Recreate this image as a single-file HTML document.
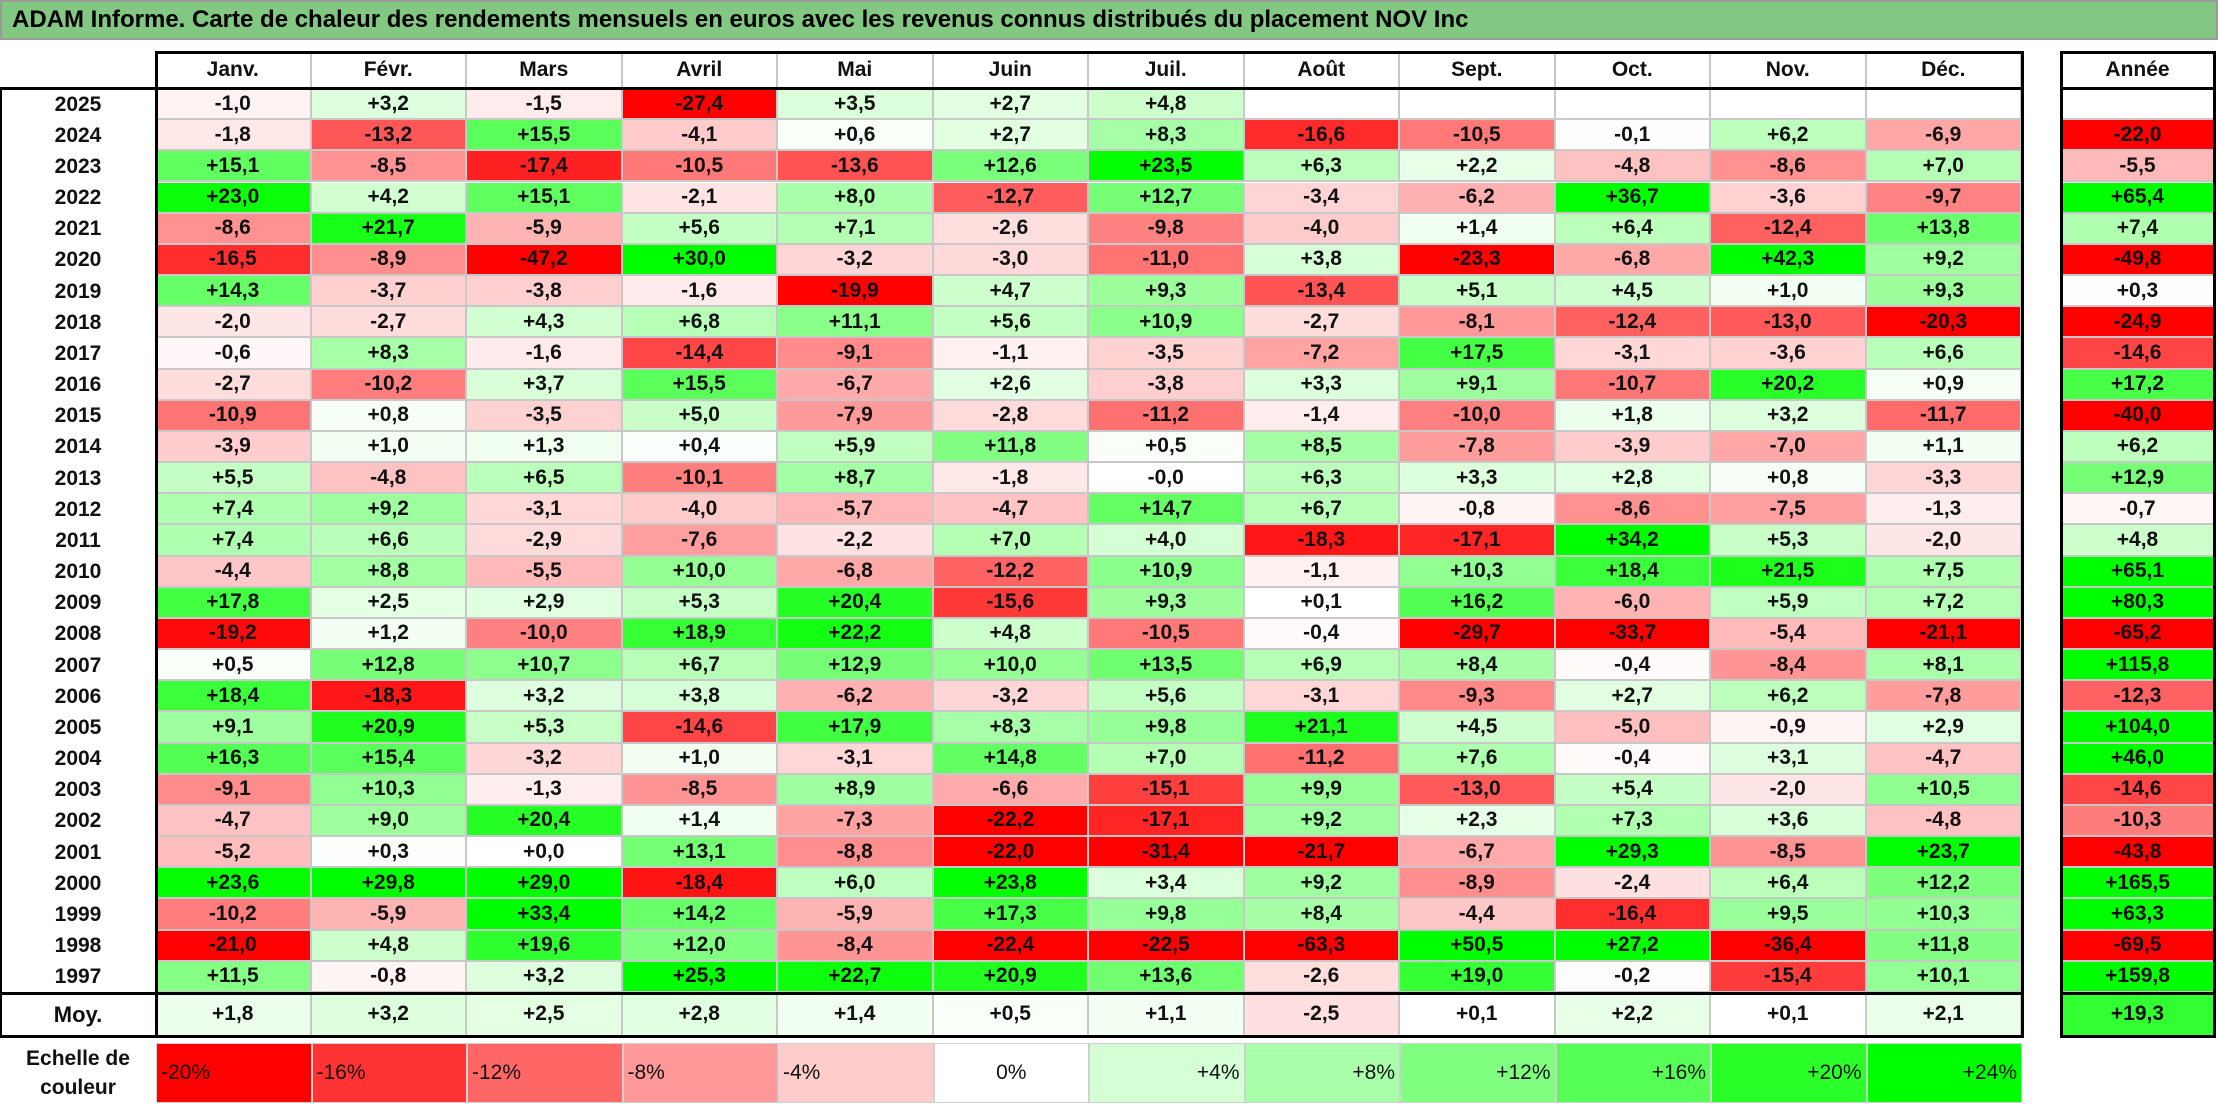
<!DOCTYPE html>
<html><head><meta charset="utf-8">
<style>
html,body{margin:0;padding:0;background:#fff;}
body{width:2218px;height:1106px;position:relative;overflow:hidden;font-family:"Liberation Sans",sans-serif;}
.c{position:absolute;box-sizing:border-box;display:flex;align-items:center;justify-content:center;font-weight:bold;font-size:21px;color:#111;border-right:2px solid #c8c8c8;border-bottom:2px solid #c8c8c8;}
#title{position:absolute;left:0;top:0;width:2218px;height:40px;background:#82c882;box-sizing:border-box;border:2px solid #9a9a9a;font-weight:bold;font-size:24px;line-height:36px;padding-left:10px;}
.box{position:absolute;box-sizing:border-box;border:3px solid #000;pointer-events:none;}
.ln{position:absolute;background:#000;}
</style></head><body>
<div id="title">ADAM Informe. Carte de chaleur des rendements mensuels en euros avec les revenus connus distribués du placement NOV Inc</div>
<div id="grid"></div>
<script>
const months=["Janv.","Févr.","Mars","Avril","Mai","Juin","Juil.","Août","Sept.","Oct.","Nov.","Déc."];
const years=[2025,2024,2023,2022,2021,2020,2019,2018,2017,2016,2015,2014,2013,2012,2011,2010,2009,2008,2007,2006,2005,2004,2003,2002,2001,2000,1999,1998,1997];
const values=[
[-1.0,3.2,-1.5,-27.4,3.5,2.7,4.8,null,null,null,null,null],
[-1.8,-13.2,15.5,-4.1,0.6,2.7,8.3,-16.6,-10.5,-0.1,6.2,-6.9],
[15.1,-8.5,-17.4,-10.5,-13.6,12.6,23.5,6.3,2.2,-4.8,-8.6,7.0],
[23.0,4.2,15.1,-2.1,8.0,-12.7,12.7,-3.4,-6.2,36.7,-3.6,-9.7],
[-8.6,21.7,-5.9,5.6,7.1,-2.6,-9.8,-4.0,1.4,6.4,-12.4,13.8],
[-16.5,-8.9,-47.2,30.0,-3.2,-3.0,-11.0,3.8,-23.3,-6.8,42.3,9.2],
[14.3,-3.7,-3.8,-1.6,-19.9,4.7,9.3,-13.4,5.1,4.5,1.0,9.3],
[-2.0,-2.7,4.3,6.8,11.1,5.6,10.9,-2.7,-8.1,-12.4,-13.0,-20.3],
[-0.6,8.3,-1.6,-14.4,-9.1,-1.1,-3.5,-7.2,17.5,-3.1,-3.6,6.6],
[-2.7,-10.2,3.7,15.5,-6.7,2.6,-3.8,3.3,9.1,-10.7,20.2,0.9],
[-10.9,0.8,-3.5,5.0,-7.9,-2.8,-11.2,-1.4,-10.0,1.8,3.2,-11.7],
[-3.9,1.0,1.3,0.4,5.9,11.8,0.5,8.5,-7.8,-3.9,-7.0,1.1],
[5.5,-4.8,6.5,-10.1,8.7,-1.8,-0.0,6.3,3.3,2.8,0.8,-3.3],
[7.4,9.2,-3.1,-4.0,-5.7,-4.7,14.7,6.7,-0.8,-8.6,-7.5,-1.3],
[7.4,6.6,-2.9,-7.6,-2.2,7.0,4.0,-18.3,-17.1,34.2,5.3,-2.0],
[-4.4,8.8,-5.5,10.0,-6.8,-12.2,10.9,-1.1,10.3,18.4,21.5,7.5],
[17.8,2.5,2.9,5.3,20.4,-15.6,9.3,0.1,16.2,-6.0,5.9,7.2],
[-19.2,1.2,-10.0,18.9,22.2,4.8,-10.5,-0.4,-29.7,-33.7,-5.4,-21.1],
[0.5,12.8,10.7,6.7,12.9,10.0,13.5,6.9,8.4,-0.4,-8.4,8.1],
[18.4,-18.3,3.2,3.8,-6.2,-3.2,5.6,-3.1,-9.3,2.7,6.2,-7.8],
[9.1,20.9,5.3,-14.6,17.9,8.3,9.8,21.1,4.5,-5.0,-0.9,2.9],
[16.3,15.4,-3.2,1.0,-3.1,14.8,7.0,-11.2,7.6,-0.4,3.1,-4.7],
[-9.1,10.3,-1.3,-8.5,8.9,-6.6,-15.1,9.9,-13.0,5.4,-2.0,10.5],
[-4.7,9.0,20.4,1.4,-7.3,-22.2,-17.1,9.2,2.3,7.3,3.6,-4.8],
[-5.2,0.3,0.0,13.1,-8.8,-22.0,-31.4,-21.7,-6.7,29.3,-8.5,23.7],
[23.6,29.8,29.0,-18.4,6.0,23.8,3.4,9.2,-8.9,-2.4,6.4,12.2],
[-10.2,-5.9,33.4,14.2,-5.9,17.3,9.8,8.4,-4.4,-16.4,9.5,10.3],
[-21.0,4.8,19.6,12.0,-8.4,-22.4,-22.5,-63.3,50.5,27.2,-36.4,11.8],
[11.5,-0.8,3.2,25.3,22.7,20.9,13.6,-2.6,19.0,-0.2,-15.4,10.1]];
const yearTotals=[null,-22.0,-5.5,65.4,7.4,-49.8,0.3,-24.9,-14.6,17.2,-40.0,6.2,12.9,-0.7,4.8,65.1,80.3,-65.2,115.8,-12.3,104.0,46.0,-14.6,-10.3,-43.8,165.5,63.3,-69.5,159.8];
const averages=[1.8,3.2,2.5,2.8,1.4,0.5,1.1,-2.5,0.1,2.2,0.1,2.1];
const averageTotal=19.3;
const scaleTicks=[-20,-16,-12,-8,-4,0,4,8,12,16,20,24];

const X0=156,CW=155.5,AX=2061,AW=155,HY=52,HH=37,RY=89,RH=31.17,MH=44,LY=1043,LH=60;
const colX=i=>X0+i*CW;
const rowY=r=>RY+r*RH;
function color(v){
  if(v===null) return '#fff';
  let r,g,b;
  if(v<0){const t=Math.min(1,-v/20);r=255;g=b=Math.round(255*(1-t));}
  else{const t=Math.min(1,v/24);g=255;r=b=Math.round(255*(1-t));}
  return `rgb(${r},${g},${b})`;
}
function fmt(v){
  if(v===null) return '';
  const neg=v<0||Object.is(v,-0);
  return (neg?'-':'+')+Math.abs(v).toFixed(1).replace('.',',');
}
const body=document.body;
function cell(x,y,w,h,text,bg,name,extra){
  const d=document.createElement('div');
  d.className='c';
  d.style.cssText=`left:${x}px;top:${y}px;width:${w}px;height:${h}px;background:${bg};`+(extra||'');
  d.textContent=text;
  
  
  body.appendChild(d);
  return d;
}
months.forEach((m,i)=>{
  cell(colX(i),HY,CW,HH,m,'#fff','month-header');
});
cell(AX,HY,AW,HH,'Année','#fff','year-total-header');
years.forEach((y,r)=>{
  cell(0,rowY(r),X0,RH,String(y),'#fff','year-label','border:none;');
  values[r].forEach((v,i)=>{
    cell(colX(i),rowY(r),CW,RH,fmt(v),color(v),'heatmap-cell');
  });
  cell(AX,rowY(r),AW,RH,fmt(yearTotals[r]),color(yearTotals[r]),'year-total-cell');
});
const MY=rowY(years.length);
cell(0,MY,X0,MH,'Moy.','#fff','average-label','border:none;font-size:22px;');
averages.forEach((v,i)=>cell(colX(i),MY,CW,MH,fmt(v),color(v),'average-cell'));
cell(AX,MY,AW,MH,fmt(averageTotal),color(averageTotal),'average-total-cell');
const lab=cell(0,LY,X0,LH,'','#fff','legend-title','border:none;font-size:21px;line-height:29px;text-align:center;flex-direction:column;');
lab.innerHTML='Echelle de<br>couleur';
scaleTicks.forEach((t,i)=>{
  const txt=(t>0?'+':'')+t+'%';
  const jc=t<0?'flex-start':(t>0?'flex-end':'center');
  cell(colX(i),LY,CW,LH,txt,color(t),'legend-swatch',`justify-content:${jc};padding:0 4px;font-weight:normal;font-size:21px;border:1px solid #d0d0d0;`);
});
function box(x,y,w,h,name){const d=document.createElement('div');d.className='box';d.style.cssText=`left:${x}px;top:${y}px;width:${w}px;height:${h}px;`;body.appendChild(d);}
function line(x,y,w,h,name){const d=document.createElement('div');d.className='ln';d.style.cssText=`left:${x}px;top:${y}px;width:${w}px;height:${h}px;`;body.appendChild(d);}
box(X0-1,HY-1,12*CW+3,HH+2,'header-border');
box(AX-1,HY-1,AW+1,MY+MH-HY+2,'year-column-border');
line(AX-1,HY+HH-2,AW+1,3,'year-header-line');
line(0,RY-2,X0+12*CW+2,3,'rows-top-line');
line(X0-1,HY,3,MY+MH-HY,'year-col-divider');
line(X0+12*CW-1,RY,3,MY+MH-RY,'right-border');
line(0,MY-1,X0+12*CW+2,3,'average-top-line');
line(0,MY+MH-2,X0+12*CW+2,3,'average-bottom-line');
line(AX-1,MY-1,AW+1,3,'year-average-line');
line(0,RY,2,MY+MH-RY,'left-border');
</script>
</body></html>
